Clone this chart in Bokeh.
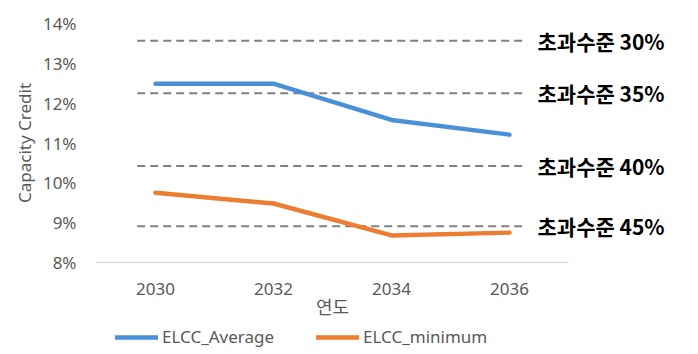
from bokeh.plotting import figure
from bokeh.layouts import column
from bokeh.models import (FixedTicker, NumeralTickFormatter, Legend, LegendItem,
                          LinearAxis, Range1d)
from bokeh.embed import file_html
from bokeh.resources import INLINE

# ---- data ----
years = [2030, 2032, 2034, 2036]
elcc_average = [0.1249, 0.1249, 0.1158, 0.1121]
elcc_minimum = [0.0975, 0.0948, 0.0868, 0.0875]
threshold_levels = [0.1357, 0.1225, 0.1042, 0.0891]
threshold_labels = ["초과수준 30%", "초과수준 35%", "초과수준 40%", "초과수준 45%"]
y_ticks = [0.08, 0.09, 0.10, 0.11, 0.12, 0.13, 0.14]
series_names = ["ELCC_Average", "ELCC_minimum"]

BLUE = "#4A90D9"
ORANGE = "#ED7D31"
GRAY_TXT = "#595959"

X0, X1 = 2029, 2037            # category span of the axis

p = figure(width=698, height=324, output_backend="svg", toolbar_location=None,
           x_range=Range1d(X0, X1), y_range=Range1d(0.08, 0.14),
           min_border_left=96, min_border_right=130, min_border_top=23,
           min_border_bottom=62)
p.outline_line_color = None
p.xgrid.grid_line_color = None
p.ygrid.grid_line_color = None
p.background_fill_color = "white"
p.border_fill_color = "white"

# threshold dashed lines
n = len(threshold_levels)
p.segment(x0=[X0 + 0.69] * n, x1=[X1 - 0.78] * n,
          y0=threshold_levels, y1=threshold_levels,
          line_color="#808080", line_width=2, line_dash="8 5")

r1 = p.line(years, elcc_average, line_color=BLUE, line_width=4.5, line_cap="round")
r2 = p.line(years, elcc_minimum, line_color=ORANGE, line_width=4.5, line_cap="round")

# threshold labels as a right-hand axis
thr_axis = LinearAxis(ticker=FixedTicker(ticks=threshold_levels),
                      major_label_overrides={lvl: txt for lvl, txt in zip(threshold_levels, threshold_labels)},
                      axis_line_color=None, major_tick_line_color=None,
                      minor_tick_line_color=None, major_label_standoff=-37,
                      major_label_text_font="Noto Sans CJK KR",
                      major_label_text_font_style="bold",
                      major_label_text_font_size="21px",
                      major_label_text_color="black")
p.add_layout(thr_axis, "right")

# axes
p.xaxis.ticker = FixedTicker(ticks=years)
p.xaxis.major_tick_line_color = None
p.xaxis.minor_tick_line_color = None
p.xaxis.axis_line_color = "#D9D9D9"
p.xaxis.axis_line_width = 1.3
p.xaxis.major_label_text_font = "Noto Sans"
p.xaxis.major_label_text_font_size = "17px"
p.xaxis.major_label_text_color = GRAY_TXT
p.xaxis.major_label_standoff = 14
p.xaxis.axis_label = "연도"
p.xaxis.axis_label_text_font = "Noto Sans CJK KR"
p.xaxis.axis_label_text_font_style = "normal"
p.xaxis.axis_label_text_font_size = "18px"
p.xaxis.axis_label_text_color = GRAY_TXT
p.xaxis.axis_label_standoff = -5

p.yaxis[0].ticker = FixedTicker(ticks=y_ticks)
p.yaxis[0].formatter = NumeralTickFormatter(format="0%")
p.yaxis[0].major_tick_line_color = None
p.yaxis[0].minor_tick_line_color = None
p.yaxis[0].axis_line_color = None
p.yaxis[0].major_label_text_font = "Noto Sans"
p.yaxis[0].major_label_text_font_size = "17px"
p.yaxis[0].major_label_text_color = GRAY_TXT
p.yaxis[0].major_label_standoff = 14
p.yaxis[0].axis_label = "Capacity Credit"
p.yaxis[0].axis_label_text_font = "Noto Sans"
p.yaxis[0].axis_label_text_font_style = "normal"
p.yaxis[0].axis_label_text_font_size = "17px"
p.yaxis[0].axis_label_text_color = GRAY_TXT
p.yaxis[0].axis_label_standoff = 4

# legend strip below the chart
leg = figure(width=698, height=30, output_backend="svg", toolbar_location=None,
             x_axis_type=None, y_axis_type=None, min_border=0,
             x_range=Range1d(0, 1), y_range=Range1d(0, 1))
leg.outline_line_color = None
leg.xgrid.grid_line_color = None
leg.ygrid.grid_line_color = None
l1 = leg.line([-2, -1], [-2, -2], line_color=BLUE, line_width=4.5, line_cap="round")
l2 = leg.line([-2, -1], [-2, -2], line_color=ORANGE, line_width=4.5, line_cap="round")
legend = Legend(items=[LegendItem(label=series_names[0], renderers=[l1]),
                       LegendItem(label=series_names[1], renderers=[l2])],
                orientation="horizontal", location=(19, 6),
                padding=0, margin=0, spacing=42, label_standoff=4,
                glyph_width=43, glyph_height=20,
                border_line_color=None, background_fill_alpha=0,
                label_text_font="Noto Sans", label_text_font_size="17px",
                label_text_color=GRAY_TXT)
leg.add_layout(legend, "center")

layout = column(p, leg, spacing=0)
open("out.html", "w").write(file_html(layout, INLINE))
